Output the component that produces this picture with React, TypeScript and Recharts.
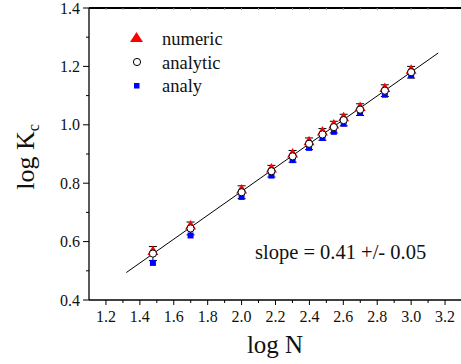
import { ScatterChart, Scatter, XAxis, YAxis, ErrorBar } from 'recharts';

const logN = [1.477, 1.699, 2.0, 2.176, 2.301, 2.398, 2.477, 2.544, 2.602, 2.699, 2.845, 3.0];
const numeric = [0.566, 0.653, 0.777, 0.849, 0.9, 0.942, 0.975, 0.999, 1.024, 1.059, 1.124, 1.187];
const analytic = [0.559, 0.645, 0.769, 0.841, 0.892, 0.935, 0.967, 0.992, 1.016, 1.052, 1.117, 1.18];
const analyticErr = [0.024, 0.022, 0.022, 0.02, 0.02, 0.02, 0.02, 0.02, 0.02, 0.02, 0.02, 0.02];
const analy = [0.527, 0.621, 0.753, 0.826, 0.879, 0.921, 0.955, 0.976, 1.004, 1.041, 1.103, 1.17];

// linear fit, slope 0.41
const fitX = [1.32, 3.16];
const fitY = [0.494, 1.246];

const xTicks = [1.2, 1.3, 1.4, 1.5, 1.6, 1.7, 1.8, 1.9, 2.0, 2.1, 2.2, 2.3, 2.4, 2.5, 2.6, 2.7, 2.8, 2.9, 3.0, 3.1, 3.2, 3.3];
const yTicks = [0.4, 0.5, 0.6, 0.7, 0.8, 0.9, 1.0, 1.1, 1.2, 1.3, 1.4];

const FONT = '"Liberation Serif", "Times New Roman", Times, serif';
const textStyle = { fontFamily: FONT };

const numericData = logN.map((x, i) => ({ x, y: numeric[i] }));
const analyticData = logN.map((x, i) => ({ x, y: analytic[i], err: analyticErr[i] }));
const analyData = logN.map((x, i) => ({ x, y: analy[i] }));
const fitData = fitX.map((x, i) => ({ x, y: fitY[i] }));

// every other tick (0.2 steps) is a labelled major tick
const isMajor = (v: number) => Math.abs(Math.round(v * 10) % 2) === 0;

const BottomTick = (props: any) => {
  const { x, y, payload } = props;
  const major = isMajor(payload.value);
  return (
    <g>
      <line x1={x} x2={x} y1={y} y2={y + (major ? 5 : 3)} stroke="#000" strokeWidth={1} />
      {major && (
        <text x={x} y={y + 21.5} textAnchor="middle" fontSize={16} style={textStyle} fill="#111">
          {payload.value.toFixed(1)}
        </text>
      )}
    </g>
  );
};

const LeftTick = (props: any) => {
  const { x, y, payload } = props;
  const major = isMajor(payload.value);
  return (
    <g>
      <line x1={x} x2={x - (major ? 6 : 3)} y1={y} y2={y} stroke="#000" strokeWidth={1} />
      {major && (
        <text x={x - 9} y={y + 5.5} textAnchor="end" fontSize={16} style={textStyle} fill="#111">
          {payload.value.toFixed(1)}
        </text>
      )}
    </g>
  );
};

const TopTick = (props: any) => {
  const { x, y } = props;
  return <line x1={x} x2={x} y1={y} y2={y + 2} stroke="#999" strokeWidth={1} />;
};

const Triangle = (props: any) => {
  const { cx, cy } = props;
  return <polygon points={`${cx},${cy - 6} ${cx - 5.5},${cy + 3.5} ${cx + 5.5},${cy + 3.5}`} fill="#ff0000" />;
};

const OpenCircle = (props: any) => {
  const { cx, cy } = props;
  return <circle cx={cx} cy={cy} r={3.6} fill="#fff" stroke="#000" strokeWidth={1} />;
};

const BlueSquare = (props: any) => {
  const { cx, cy } = props;
  return <rect x={cx - 3} y={cy - 3} width={6} height={6} fill="#0000ff" />;
};

export default function App() {
  return (
    <div style={{ position: 'fixed', left: 0, top: 0, width: 461, height: 364, overflow: 'hidden', background: '#fff' }}>
      <ScatterChart width={470} height={364} margin={{ top: 7, right: 8, bottom: 0, left: 0 }}>
        <XAxis
          type="number"
          dataKey="x"
          domain={[1.1, 3.3]}
          ticks={xTicks}
          interval={0}
          allowDataOverflow
          height={64}
          tickSize={0}
          tickMargin={0}
          tick={<BottomTick />}
          axisLine={{ stroke: '#000', strokeWidth: 1.3 }}
        />
        <XAxis
          xAxisId="top"
          orientation="top"
          type="number"
          dataKey="x"
          domain={[1.1, 3.3]}
          ticks={xTicks}
          interval={0}
          allowDataOverflow
          height={1}
          tickSize={0}
          tickMargin={0}
          tick={<TopTick />}
          axisLine={{ stroke: '#000', strokeWidth: 1.8 }}
        />
        <YAxis
          type="number"
          dataKey="y"
          domain={[0.4, 1.4]}
          ticks={yTicks}
          interval={0}
          allowDataOverflow
          width={89}
          tickSize={0}
          tickMargin={0}
          tick={<LeftTick />}
          axisLine={{ stroke: '#000', strokeWidth: 1.3 }}
        />
        <Scatter
          data={fitData}
          line={{ stroke: '#000', strokeWidth: 1 }}
          shape={() => <g />}
          isAnimationActive={false}
        />
        <Scatter data={numericData} shape={<Triangle />} isAnimationActive={false} />
        <Scatter data={analyData} shape={<BlueSquare />} isAnimationActive={false} />
        <Scatter data={analyticData} shape={<OpenCircle />} isAnimationActive={false}>
          <ErrorBar dataKey="err" direction="y" width={4} stroke="#000" strokeWidth={1} />
        </Scatter>
      </ScatterChart>

      <svg
        width={461}
        height={364}
        style={{ position: 'absolute', left: 0, top: 0, pointerEvents: 'none', fontFamily: FONT }}
      >
        {/* legend */}
        <polygon points="136.5,32 130,42 143,42" fill="#ff0000" />
        <text x={162} y={45} fontSize={18.5} fill="#111" style={textStyle}>numeric</text>
        <circle cx={137} cy={62} r={3.6} fill="#fff" stroke="#000" strokeWidth={1} />
        <text x={162} y={68.5} fontSize={18.5} fill="#111" style={textStyle}>analytic</text>
        <rect x={134} y={83} width={5.5} height={5.5} fill="#0000ff" />
        <text x={162} y={92} fontSize={18.5} fill="#111" style={textStyle}>analy</text>

        <text x={255} y={259} fontSize={20.5} fill="#111" style={textStyle}>slope = 0.41 +/- 0.05</text>

        <text x={275} y={353} textAnchor="middle" fontSize={25} fill="#111" style={textStyle}>log N</text>
        <text transform="translate(34,157) rotate(-90)" textAnchor="middle" fontSize={26} fill="#111" style={textStyle}>
          log K<tspan dy={5} fontSize={16}>c</tspan>
        </text>
      </svg>
    </div>
  );
}
